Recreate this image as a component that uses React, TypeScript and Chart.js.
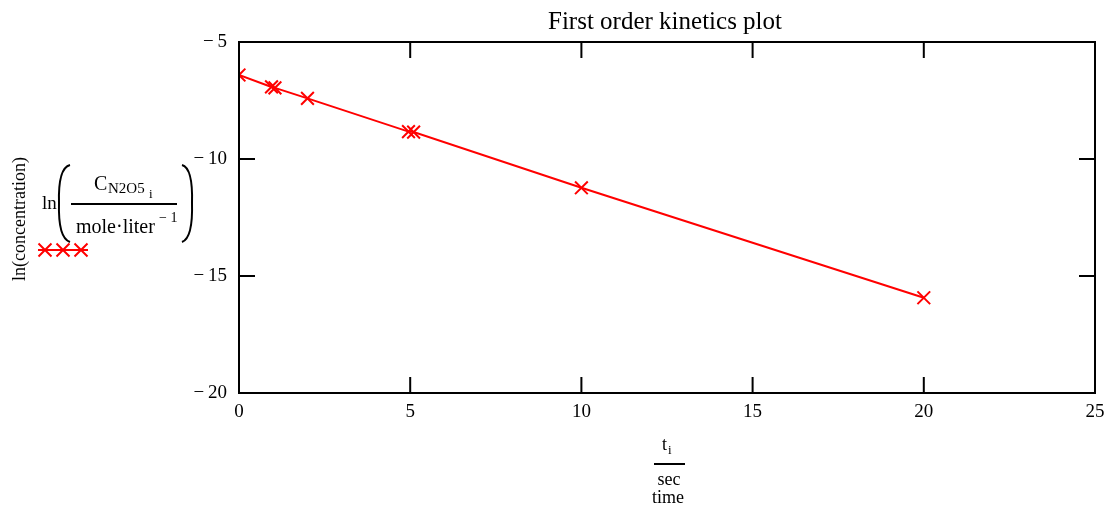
import React, { useEffect, useRef } from "react";
import { Chart, registerables } from "chart.js";

Chart.register(...registerables);

const timeValues = [0, 0.95, 1.05, 2, 4.95, 5.1, 10, 20];
const lnConcentration = [-6.41, -6.92, -6.96, -7.41, -8.83, -8.85, -11.23, -15.93];
const xTickValues = [0, 5, 10, 15, 20, 25];
const yTickValues = [-20, -15, -10, -5];
const titleText = "First order kinetics plot";

const RED = "#ff0000";
const SERIF = "'Liberation Serif', 'Times New Roman', serif";

function drawX(ctx: CanvasRenderingContext2D, x: number, y: number, r: number) {
  ctx.beginPath();
  ctx.moveTo(x - r, y - r);
  ctx.lineTo(x + r, y + r);
  ctx.moveTo(x - r, y + r);
  ctx.lineTo(x + r, y - r);
  ctx.stroke();
}

const decorPlugin = {
  id: "decor",
  afterDraw(chart: any) {
    const ctx: CanvasRenderingContext2D = chart.ctx;
    const { left, right, top, bottom } = chart.chartArea;
    const xs = chart.scales.x;
    const ys = chart.scales.y;
    ctx.save();
    // box
    ctx.strokeStyle = "#000";
    ctx.lineWidth = 2;
    ctx.strokeRect(left, top, right - left, bottom - top);
    // inward ticks
    const tl = 16;
    ctx.beginPath();
    xs.ticks.forEach((t: any) => {
      const px = xs.getPixelForValue(t.value);
      if (px <= left + 1 || px >= right - 1) return;
      ctx.moveTo(px, bottom);
      ctx.lineTo(px, bottom - tl);
      ctx.moveTo(px, top);
      ctx.lineTo(px, top + tl);
    });
    ys.ticks.forEach((t: any) => {
      const py = ys.getPixelForValue(t.value);
      if (py <= top + 1 || py >= bottom - 1) return;
      ctx.moveTo(left, py);
      ctx.lineTo(left + tl, py);
      ctx.moveTo(right, py);
      ctx.lineTo(right - tl, py);
    });
    ctx.stroke();

    // title
    ctx.fillStyle = "#000";
    ctx.textAlign = "center";
    ctx.textBaseline = "alphabetic";
    ctx.font = `25px ${SERIF}`;
    ctx.fillText(titleText, 665, 29);

    // x axis label: t_i / sec, time
    const cx = 669;
    ctx.font = `18px ${SERIF}`;
    ctx.textAlign = "left";
    ctx.fillText("t", cx - 7, 450);
    ctx.font = `13px ${SERIF}`;
    ctx.fillText("i", cx - 1, 454);
    ctx.lineWidth = 2;
    ctx.beginPath();
    ctx.moveTo(654, 464);
    ctx.lineTo(685, 464);
    ctx.stroke();
    ctx.textAlign = "center";
    ctx.font = `18px ${SERIF}`;
    ctx.fillText("sec", cx, 485);
    ctx.fillText("time", cx - 1, 503);

    // y axis rotated label
    ctx.save();
    ctx.translate(25, 219);
    ctx.rotate(-Math.PI / 2);
    ctx.textAlign = "center";
    ctx.font = `18px ${SERIF}`;
    ctx.fillText("ln(concentration)", 0, 0);
    ctx.restore();

    // ln( C / mole·liter^-1 )
    ctx.textAlign = "left";
    ctx.font = `19px ${SERIF}`;
    ctx.fillText("ln", 42, 209);
    // big parens
    ctx.lineWidth = 2;
    ctx.beginPath();
    ctx.moveTo(70, 165);
    ctx.quadraticCurveTo(58, 168, 59, 203);
    ctx.quadraticCurveTo(58, 238, 70, 242);
    ctx.stroke();
    ctx.beginPath();
    ctx.moveTo(182, 165);
    ctx.quadraticCurveTo(193, 168, 192, 203);
    ctx.quadraticCurveTo(193, 238, 182, 242);
    ctx.stroke();
    // numerator
    ctx.font = `20px ${SERIF}`;
    ctx.fillText("C", 94, 190);
    ctx.font = `15px ${SERIF}`;
    ctx.fillText("N2O5", 108, 193);
    ctx.font = `13px ${SERIF}`;
    ctx.fillText("i", 149, 198);
    // fraction bar
    ctx.beginPath();
    ctx.moveTo(71, 204);
    ctx.lineTo(177, 204);
    ctx.stroke();
    // denominator
    ctx.font = `20px ${SERIF}`;
    ctx.fillText("mole\u00b7liter", 76, 233);
    ctx.font = `14px ${SERIF}`;
    ctx.fillText("\u2212 1", 159, 222);

    // legend markers
    ctx.strokeStyle = RED;
    ctx.lineWidth = 2;
    ctx.beginPath();
    ctx.moveTo(38, 250);
    ctx.lineTo(88, 250);
    ctx.stroke();
    [45, 63, 81].forEach((mx) => drawX(ctx, mx, 250, 6.5));
    ctx.restore();
  },
};

export default function App() {
  const ref = useRef<HTMLCanvasElement>(null);
  useEffect(() => {
    if (!ref.current) return;
    const chart = new Chart(ref.current, {
      type: "line",
      data: {
        datasets: [
          {
            data: timeValues.map((t, i) => ({ x: t, y: lnConcentration[i] })),
            borderColor: RED,
            backgroundColor: RED,
            borderWidth: 2,
            pointStyle: "crossRot",
            pointRadius: 9,
            pointBorderWidth: 2,
            pointBorderColor: RED,
            tension: 0,
            clip: 0,
          } as any,
        ],
      },
      options: {
        animation: false,
        responsive: false,
        maintainAspectRatio: false,
        events: [],
        layout: { padding: { top: 42, right: 19, bottom: 0, left: 0 } },
        plugins: { legend: { display: false }, tooltip: { enabled: false }, title: { display: false } },
        scales: {
          x: {
            type: "linear",
            min: 0,
            max: 25,
            afterBuildTicks: (s: any) => {
              s.ticks = xTickValues.map((v) => ({ value: v }));
            },
            grid: { display: false, drawTicks: false },
            border: { display: false },
            ticks: { color: "#000", font: { family: SERIF, size: 19 }, padding: 8, maxRotation: 0, autoSkip: false },
            afterFit: (s: any) => {
              s.height = 115;
            },
          },
          y: {
            type: "linear",
            min: -20,
            max: -5,
            afterBuildTicks: (s: any) => {
              s.ticks = yTickValues.map((v) => ({ value: v }));
            },
            grid: { display: false, drawTicks: false },
            border: { display: false },
            ticks: {
              color: "#000",
              font: { family: SERIF, size: 19 },
              padding: 12,
              autoSkip: false,
              callback: (v: any) => (v < 0 ? "\u2212\u2009" + Math.abs(v) : String(v)),
            },
            afterFit: (s: any) => {
              s.width = 239;
            },
          },
        },
      },
      plugins: [decorPlugin],
    });
    return () => chart.destroy();
  }, []);
  return (
    <div style={{ position: "fixed", left: 0, top: 0, width: 1114, height: 508, background: "#fff" }}>
      <canvas ref={ref} width={1114} height={508} style={{ width: 1114, height: 508 }} />
    </div>
  );
}
